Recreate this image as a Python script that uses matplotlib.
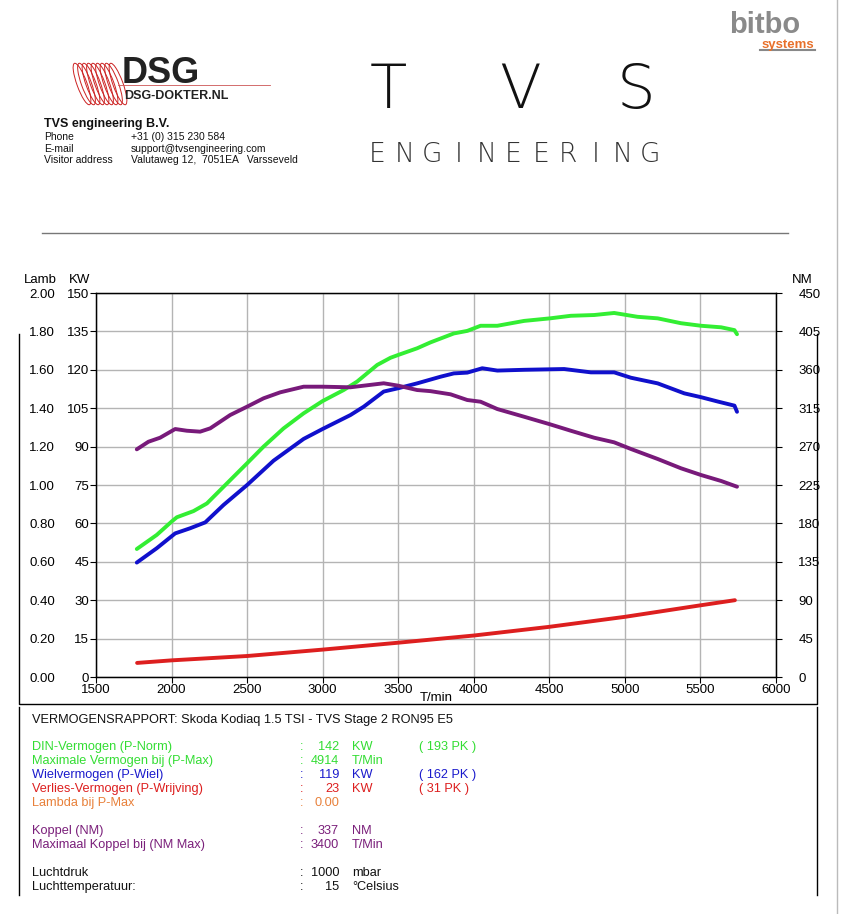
import numpy as np
import matplotlib
matplotlib.use("Agg")
import matplotlib.pyplot as plt
from matplotlib.patches import Ellipse

plt.rcParams['font.family'] = ['Liberation Sans', 'DejaVu Sans']

# Dyno data (rpm -> KW / NM)
rpm_din = [1770, 1902, 2002, 2035, 2145, 2234, 2344, 2500, 2609, 2741, 2874, 3000,
           3139, 3228, 3361, 3449, 3500, 3625, 3713, 3868, 3957, 4045, 4156, 4333,
           4505, 4642, 4797, 4929, 5084, 5217, 5371, 5504, 5637, 5725, 5742]
kw_din = [50.0, 55.5, 60.8, 62.4, 64.8, 67.8, 74.3, 83.5, 90.0, 97.1, 103.0, 107.8,
          112.1, 115.4, 121.9, 124.7, 125.8, 128.4, 130.7, 134.2, 135.2, 137.2, 137.2, 139.1,
          140.1, 141.1, 141.4, 142.2, 140.7, 140.1, 138.2, 137.2, 136.6, 135.5, 133.9]

rpm_wiel = [1770, 1902, 2024, 2123, 2223, 2344, 2500, 2675, 2874, 3000, 3183, 3272,
            3404, 3500, 3625, 3780, 3868, 3957, 4056, 4156, 4333, 4598, 4775, 4929,
            5040, 5217, 5393, 5504, 5615, 5725, 5742]
kw_wiel = [44.7, 50.3, 56.1, 58.1, 60.4, 67.2, 75.0, 84.5, 93.0, 96.9, 102.3, 105.6,
           111.5, 112.8, 114.7, 117.3, 118.6, 118.9, 120.6, 119.7, 120.0, 120.3, 119.0, 119.0,
           116.9, 114.7, 110.8, 109.3, 107.6, 106.0, 103.6]

rpm_verlies = [1772, 2000, 2500, 3000, 3500, 4000, 4500, 5000, 5500, 5728]
kw_verlies = [5.5, 6.5, 8.2, 10.7, 13.4, 16.2, 19.6, 23.5, 28.0, 30.0]

rpm_koppel = [1770, 1847, 1924, 2024, 2101, 2189, 2256, 2388, 2500, 2609, 2719, 2874,
              3000, 3183, 3272, 3404, 3500, 3625, 3713, 3846, 3957, 4045, 4156, 4333,
              4505, 4642, 4797, 4929, 5040, 5217, 5371, 5504, 5637, 5742]
nm_koppel = [266.8, 275.7, 280.4, 290.6, 288.6, 287.5, 291.4, 307.0, 316.8, 326.6, 333.6, 340.2,
             340.2, 339.5, 341.4, 344.2, 341.4, 336.3, 335.0, 331.3, 324.6, 322.6, 314.0, 305.0,
             296.1, 288.6, 280.4, 275.0, 267.2, 255.5, 244.6, 236.7, 229.7, 223.0]

x_ticks = [1500, 2000, 2500, 3000, 3500, 4000, 4500, 5000, 5500, 6000]
kw_ticks = [0, 15, 30, 45, 60, 75, 90, 105, 120, 135, 150]
lamb_ticks = [0.0, 0.2, 0.4, 0.6, 0.8, 1.0, 1.2, 1.4, 1.6, 1.8, 2.0]
nm_ticks = [0, 45, 90, 135, 180, 225, 270, 315, 360, 405, 450]

report_title = "VERMOGENSRAPPORT: Skoda Kodiaq 1.5 TSI - TVS Stage 2 RON95 E5"
report_rows = [
    ("DIN-Vermogen (P-Norm)", "142", "KW", "( 193 PK )", "#33dd33"),
    ("Maximale Vermogen bij (P-Max)", "4914", "T/Min", "", "#33dd33"),
    ("Wielvermogen (P-Wiel)", "119", "KW", "( 162 PK )", "#1a1acc"),
    ("Verlies-Vermogen (P-Wrijving)", "23", "KW", "( 31 PK )", "#dd1f1f"),
    ("Lambda bij P-Max", "0.00", "", "", "#e8803a"),
    (None, None, None, None, None),
    ("Koppel (NM)", "337", "NM", "", "#7a1f7a"),
    ("Maximaal Koppel bij (NM Max)", "3400", "T/Min", "", "#7a1f7a"),
    (None, None, None, None, None),
    ("Luchtdruk", "1000", "mbar", "", "#111111"),
    ("Luchttemperatuur:", "15", "\u00b0Celsius", "", "#111111"),
]

W, H = 842, 914
fig = plt.figure(figsize=(W / 100, H / 100), dpi=100)

# page overlay in pixel coordinates
bg = fig.add_axes([0, 0, 1, 1])
bg.set_xlim(0, W)
bg.set_ylim(H, 0)
bg.axis('off')

# --- header ---
bg.text(765, 33, "bitbo", fontsize=21, fontweight='bold', color='#8a8a8a', ha='center', va='baseline')
bg.text(788, 48, "systems", fontsize=9.5, fontweight='bold', color='#e8702a', ha='center', va='baseline')
bg.plot([760, 815], [50, 50], color='#888888', lw=1.5)

for i in range(9):
    bg.add_patch(Ellipse((82 + i * 4.5, 84), 10, 44, angle=-20, fill=False, ec='#cc2222', lw=0.7))
bg.text(122, 83, "DSG", fontsize=26, fontweight='bold', color='#222222', va='baseline')
bg.plot([118, 270], [85, 85], color='#cc5555', lw=0.6)
bg.text(124, 96, "DSG-DOKTER.NL", fontsize=9, fontweight='bold', color='#222222', va='center')

for ch, cx in zip("TVS", [388, 520, 636]):
    bg.text(cx, 108, ch, fontsize=44, fontweight='light', color='#111111', va='baseline', ha='center',
            family=['DejaVu Sans'])
for k, ch in enumerate("ENGINEERING"):
    bg.text(377 + k * 27.3, 162, ch, fontsize=19, fontweight='light', color='#333333', va='baseline',
            ha='center', family=['DejaVu Sans'])

bg.text(44, 124, "TVS engineering B.V.", fontsize=9, fontweight='bold', color='#111111', va='center')
info = [("Phone", "+31 (0) 315 230 584"),
        ("E-mail", "support@tvsengineering.com"),
        ("Visitor address", "Valutaweg 12,  7051EA   Varsseveld")]
for k, (lab, val) in enumerate(info):
    y = 137 + k * 11.5
    bg.text(44, y, lab, fontsize=7.5, color='#111111', va='center')
    bg.text(131, y, val, fontsize=7.5, color='#111111', va='center')

bg.plot([42, 788], [233, 233], color='#777777', lw=1)

# --- frame boxes ---
bg.plot([19, 19, 817, 817], [334, 704, 704, 334], color='black', lw=1)
bg.plot([19, 19], [707, 895], color='black', lw=1)
bg.plot([817, 817], [707, 895], color='black', lw=1)
bg.plot([837, 837], [0, H], color='#bbbbbb', lw=1)

# --- chart ---
ax = fig.add_axes([96 / W, (H - 677) / H, 680 / W, 384 / H])
ax.set_xlim(1500, 6000)
ax.set_ylim(0, 150)
ax.set_xticks(x_ticks)
ax.set_yticks(kw_ticks)
ax.grid(True, color='#b4b4b4', lw=1)
ax.set_axisbelow(True)
ax.tick_params(axis='both', labelsize=9.5, direction='out', length=4, pad=1)
for s in ax.spines.values():
    s.set_linewidth(1)

ax.plot(rpm_verlies, kw_verlies, color='#dd1f1f', lw=2.8, solid_capstyle='round')
ax.plot(rpm_wiel, kw_wiel, color='#1010cc', lw=2.8, solid_capstyle='round')
ax.plot(rpm_din, kw_din, color='#33ee33', lw=2.8, solid_capstyle='round')

ax_nm = ax.twinx()
ax_nm.set_ylim(0, 450)
ax_nm.set_yticks(nm_ticks)
ax_nm.tick_params(axis='y', labelsize=9.5, direction='out', length=4, pad=12)
ax_nm.plot(rpm_koppel, nm_koppel, color='#781a7a', lw=2.8, solid_capstyle='round')

lamb = ax.secondary_yaxis(-0.058, functions=(lambda k: k / 75.0, lambda l: l * 75.0))
lamb.set_yticks(lamb_ticks)
lamb.set_yticklabels([f"{v:.2f}" for v in lamb_ticks])
lamb.tick_params(axis='y', labelsize=9.5, length=0, pad=1)
lamb.spines['left'].set_visible(False)

ax.set_xlabel("T/min", fontsize=9.5, labelpad=-3)

bg.text(40, 280, "Lamb", fontsize=9.5, ha='center', va='center')
bg.text(80, 280, "KW", fontsize=9.5, ha='center', va='center')
bg.text(802, 280, "NM", fontsize=9.5, ha='center', va='center')

# --- report ---
bg.text(32, 720, report_title, fontsize=9.2, color='#111111', va='center')
y = 747
for lab, val, unit, pk, col in report_rows:
    if lab is not None:
        bg.text(32, y, lab, fontsize=9.2, color=col, va='center')
        bg.text(300, y, ":", fontsize=9.2, color=col, va='center')
        bg.text(339, y, val, fontsize=9.2, color=col, va='center', ha='right')
        if unit:
            bg.text(352, y, unit, fontsize=9.2, color=col, va='center')
        if pk:
            bg.text(419, y, pk, fontsize=9.2, color=col, va='center')
    y += 14

fig.savefig("out.png", dpi=100)
